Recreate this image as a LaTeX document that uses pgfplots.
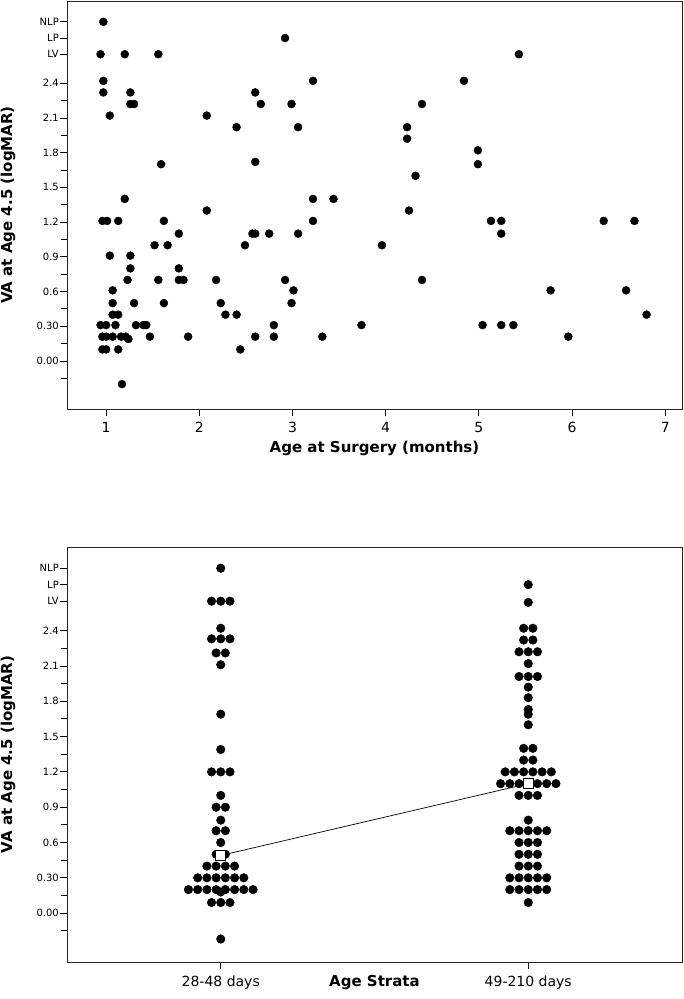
\documentclass[border=0pt]{standalone}
\usepackage{fontspec}
\setmainfont{DejaVu Sans}
\usepackage{pgfplots}
\pgfplotsset{compat=1.18}
\newcommand{\tl}{\fontsize{14}{16}\selectfont}
\begin{document}
\begin{tikzpicture}
\path[use as bounding box] (0pt,0pt) rectangle (684pt,-999pt);
\pgfplotsset{
 common/.style={
  scale only axis, width=615pt,
  axis line style={line width=0.9pt, black!85},
  tick style={line width=0.8pt, black},
  tick align=outside,
  major tick length=7pt, minor tick length=6pt,
  xtick pos=bottom, ytick pos=left,
  ymin=-0.415, ymax=3.11,
  ytick={0,0.3,0.6,0.9,1.2,1.5,1.8,2.1,2.4,2.65,2.79,2.93},
  yticklabels={0.00,0.30,0.6,0.9,1.2,1.5,1.8,2.1,2.4,LV,LP,NLP},
  minor ytick={-0.15,0.15,0.45,0.75,1.05,1.35,1.65,1.95,2.25},
  yticklabel style={font=\fontsize{10}{12}\selectfont, inner sep=1pt},
  xticklabel style={font=\tl, yshift=-3pt},
  /pgf/number format/assume math mode=true,
  ylabel={VA at Age 4.5 (logMAR)},
  every axis y label/.style={at={(axis description cs:-0.0959,0.5)}, rotate=90, anchor=center, font=\fontsize{15}{18}\selectfont\bfseries},
  clip=false,
 }
}
% ---------------- top scatter ----------------
\begin{axis}[common, height=408pt, at={(67pt,-1pt)}, anchor=north west,
  xmin=0.58, xmax=7.18, xtick={1,2,3,4,5,6,7},
  xlabel={Age at Surgery (months)},
  every axis x label/.style={at={(axis description cs:0.5,-0.1078)}, anchor=base, font=\fontsize{15}{18}\selectfont\bfseries},
]
\addplot[only marks, mark=*, mark size=4pt, mark options={fill=black, draw=black}] table {
x y
0.97 2.93
2.92 2.79
0.94 2.65
1.20 2.65
1.56 2.65
5.43 2.65
0.97 2.42
0.97 2.32
1.26 2.32
1.26 2.22
1.30 2.22
1.04 2.12
2.08 2.12
2.40 2.02
2.60 2.32
2.66 2.22
2.99 2.22
3.06 2.02
3.22 2.42
1.59 1.70
2.60 1.72
1.20 1.40
2.08 1.30
3.22 1.40
3.44 1.40
0.96 1.21
1.01 1.21
1.13 1.21
1.62 1.21
3.22 1.21
4.84 2.42
4.39 2.22
4.23 2.02
4.23 1.92
4.99 1.82
4.99 1.70
4.32 1.60
4.25 1.30
5.13 1.21
5.24 1.21
6.34 1.21
6.67 1.21
1.78 1.10
1.52 1.00
1.66 1.00
1.04 0.91
1.26 0.91
1.26 0.80
1.23 0.70
1.56 0.70
1.78 0.80
1.78 0.70
1.83 0.70
1.07 0.61
1.07 0.50
1.30 0.50
1.62 0.50
1.07 0.40
1.13 0.40
0.94 0.31
1.00 0.31
1.10 0.31
1.32 0.31
1.40 0.31
1.43 0.31
0.96 0.21
1.00 0.21
1.07 0.21
1.16 0.21
1.21 0.21
1.24 0.19
1.47 0.21
1.88 0.21
0.96 0.10
1.00 0.10
1.13 0.10
1.17 -0.20
2.18 0.70
2.23 0.50
2.28 0.40
2.40 0.40
2.44 0.10
2.49 1.00
2.57 1.10
2.60 1.10
2.75 1.10
3.06 1.10
2.60 0.21
2.80 0.31
2.80 0.21
2.92 0.70
3.01 0.61
2.99 0.50
3.32 0.21
5.24 1.10
3.96 1.00
4.39 0.70
5.77 0.61
6.58 0.61
6.80 0.40
3.74 0.31
5.04 0.31
5.24 0.31
5.37 0.31
5.96 0.21
};
\end{axis}
% ---------------- bottom dot plot ----------------
\begin{axis}[common, height=415pt, at={(67pt,-547pt)}, anchor=north west,
  xmin=-0.5, xmax=1.5, xtick={0,1}, xticklabels={{\tl 28-48 days},{\tl 49-210 days}},
  xlabel={Age Strata},
  every axis x label/.style={at={(axis description cs:0.5,-0.0602)}, anchor=base, font=\fontsize{15}{18}\selectfont\bfseries},
]
\addplot[black, line width=0.7pt] coordinates {(0,0.49) (1,1.10)};
\addplot[only marks, mark=*, mark size=4.3pt, mark options={fill=black, draw=black}] table {
x y
0 2.93
-0.03 2.65
0 2.65
0.03 2.65
0 2.42
-0.03 2.33
0 2.33
0.03 2.33
-0.015 2.21
0.015 2.21
0 2.11
0 1.69
0 1.39
-0.03 1.20
0 1.20
0.03 1.20
0 1.00
-0.015 0.90
0.015 0.90
0 0.79
-0.015 0.70
0.015 0.70
0 0.60
-0.015 0.50
0.015 0.50
-0.045 0.40
-0.015 0.40
0.015 0.40
0.045 0.40
-0.075 0.30
-0.045 0.30
-0.015 0.30
0.015 0.30
0.045 0.30
0.075 0.30
-0.105 0.20
-0.075 0.20
-0.045 0.20
-0.015 0.20
0.015 0.20
0.045 0.20
0.075 0.20
0.105 0.20
0 0.18
-0.03 0.09
0 0.09
0.03 0.09
0 -0.22
};
\addplot[only marks, mark=*, mark size=4.3pt, mark options={fill=black, draw=black}] table {
x y
1 2.79
1 2.64
0.985 2.42
1.015 2.42
0.985 2.32
1.015 2.32
0.97 2.22
1 2.22
1.03 2.22
1 2.12
0.97 2.01
1 2.01
1.03 2.01
1 1.92
1 1.83
1 1.73
1 1.69
1 1.60
0.985 1.40
1.015 1.40
0.985 1.30
1.015 1.30
0.925 1.20
0.955 1.20
0.985 1.20
1.015 1.20
1.045 1.20
1.075 1.20
0.91 1.10
0.94 1.10
0.97 1.10
1 1.10
1.03 1.10
1.06 1.10
1.09 1.10
0.97 1.00
1 1.00
1.03 1.00
1 0.79
0.94 0.70
0.97 0.70
1 0.70
1.03 0.70
1.06 0.70
0.97 0.60
1 0.60
1.03 0.60
0.97 0.50
1 0.50
1.03 0.50
0.97 0.40
1 0.40
1.03 0.40
0.94 0.30
0.97 0.30
1 0.30
1.03 0.30
1.06 0.30
0.94 0.20
0.97 0.20
1 0.20
1.03 0.20
1.06 0.20
1 0.09
};
\addplot[only marks, mark=square*, mark size=5pt, mark options={fill=white, draw=black, line width=0.6pt}] coordinates {(0,0.49) (1,1.10)};
\end{axis}
\end{tikzpicture}
\end{document}
